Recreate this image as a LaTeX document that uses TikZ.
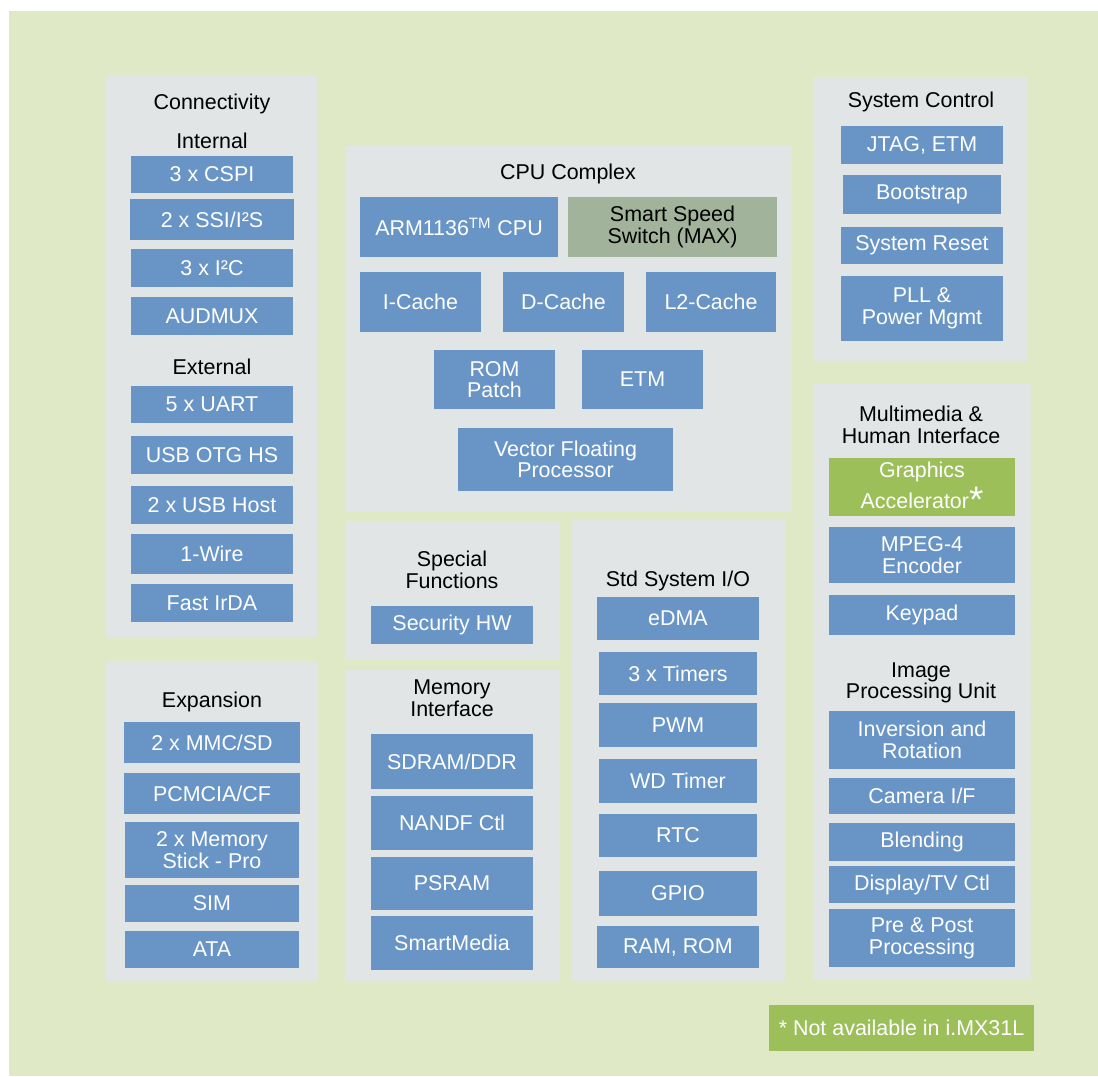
\documentclass[tikz,border=0pt]{standalone}
\usepackage{fontspec}
\setmainfont{Liberation Sans}
\definecolor{bggreen}{HTML}{E0E9C6}
\definecolor{panelgray}{HTML}{E1E5E5}
\definecolor{blkblue}{HTML}{6895C6}
\definecolor{accgreen}{HTML}{9DBF5A}
\definecolor{maxgray}{HTML}{A1B49B}
\tikzset{
  panel/.style={fill=panelgray},
  blk/.style={fill=blkblue},
  lbl/.style={text=white,align=center,inner sep=0pt,font=\fontsize{12.2}{12.3}\selectfont},
  ttl/.style={lbl,text=black},
}
\begin{document}
\begin{tikzpicture}[x=0.02cm,y=-0.02cm]
\useasboundingbox (0,0) rectangle (1098,1076);
\fill[bggreen] (9,11) rectangle (1098,1076);

\begin{scope}
\path[panel] (106,76) rectangle (317,637);
\node[ttl] (conn) at (212,104) {Connectivity};
\node[ttl] (int) at (212,141) {Internal};
\path[blk] (131,156) rectangle node[lbl] (cspi) {3 x CSPI} (293,193);
\path[blk] (130,199) rectangle node[lbl] (ssi) {2 x SSI/I²S} (294,240);
\path[blk] (131,249) rectangle node[lbl] (iic) {3 x I²C} (293,287);
\path[blk] (131,297) rectangle node[lbl] (audmux) {AUDMUX} (293,335);
\node[ttl] (ext) at (212,367) {External};
\path[blk] (131,386) rectangle node[lbl] (uart) {5 x UART} (293,423);
\path[blk] (131,436) rectangle node[lbl] (otg) {USB OTG HS} (293,474);
\path[blk] (131,486) rectangle node[lbl] (usbh) {2 x USB Host} (293,524);
\path[blk] (131,534) rectangle node[lbl] (wire) {1-Wire} (293,574);
\path[blk] (131,584) rectangle node[lbl] (irda) {Fast IrDA} (293,622);
\end{scope}

\begin{scope}
\path[panel] (106,661) rectangle (318,981);
\node[ttl] (expn) at (212,702) {Expansion};
\path[blk] (124,722) rectangle node[lbl] (mmc) {2 x MMC/SD} (300,763);
\path[blk] (124,773) rectangle node[lbl] (pcmcia) {PCMCIA/CF} (300,814);
\path[blk] (125,822) rectangle node[lbl] (mstick) {2 x Memory\\Stick - Pro} (299,878);
\path[blk] (125,885) rectangle node[lbl] (sim) {SIM} (299,922);
\path[blk] (125,931) rectangle node[lbl] (ata) {ATA} (299,968);
\end{scope}

\begin{scope}
\path[panel] (345,146) rectangle (792,512);
\node[ttl] (cpu) at (568,174) {CPU Complex};
\path[blk] (360,197) rectangle node[lbl] (arm) {ARM1136\textsuperscript{TM} CPU} (558,257);
\path[fill=maxgray] (568,197) rectangle node[ttl] (max) {Smart Speed\\Switch (MAX)} (777,257);
\path[blk] (360,272) rectangle node[lbl] (icache) {I-Cache} (481,332);
\path[blk] (503,272) rectangle node[lbl] (dcache) {D-Cache} (624,332);
\path[blk] (646,272) rectangle node[lbl] (ltwo) {L2-Cache} (776,332);
\path[blk] (434,350) rectangle node[lbl] (rom) {ROM\\Patch} (555,409);
\path[blk] (582,350) rectangle node[lbl] (etm) {ETM} (703,409);
\path[blk] (458,428) rectangle node[lbl] (vfp) {Vector Floating\\Processor} (673,491);
\end{scope}

\begin{scope}
\path[panel] (345,521) rectangle (560,660);
\node[ttl] (spec) at (452,570) {Special\\Functions};
\path[blk] (371,606) rectangle node[lbl] (sechw) {Security HW} (533,644);
\path[panel] (345,670) rectangle (560,981);
\node[ttl] (mem) at (452,698) {Memory\\Interface};
\path[blk] (371,734) rectangle node[lbl] (sdram) {SDRAM/DDR} (533,789);
\path[blk] (371,796) rectangle node[lbl] (nand) {NANDF Ctl} (533,850);
\path[blk] (371,857) rectangle node[lbl] (psram) {PSRAM} (533,910);
\path[blk] (371,916) rectangle node[lbl] (smedia) {SmartMedia} (533,970);
\end{scope}

\begin{scope}
\path[panel] (572,520) rectangle (785,981);
\node[ttl] (stdio) at (678,581) {Std System I/O};
\path[blk] (597,597) rectangle node[lbl] (edma) {eDMA} (759,640);
\path[blk] (599,652) rectangle node[lbl] (timers) {3 x Timers} (757,695);
\path[blk] (599,703) rectangle node[lbl] (pwm) {PWM} (757,747);
\path[blk] (599,759) rectangle node[lbl] (wdt) {WD Timer} (757,803);
\path[blk] (599,814) rectangle node[lbl] (rtc) {RTC} (757,857);
\path[blk] (599,871) rectangle node[lbl] (gpio) {GPIO} (757,916);
\path[blk] (597,926) rectangle node[lbl] (ramrom) {RAM, ROM} (759,968);
\end{scope}

\begin{scope}
\path[panel] (813,77) rectangle (1028,361);
\node[ttl] (sysctl) at (921,102) {System Control};
\path[blk] (841,126) rectangle node[lbl] (jtag) {JTAG, ETM} (1003,164);
\path[blk] (843,175) rectangle node[lbl] (boot) {Bootstrap} (1001,214);
\path[blk] (841,227) rectangle node[lbl] (reset) {System Reset} (1003,264);
\path[blk] (841,276) rectangle node[lbl] (pll) {PLL \&\\Power Mgmt} (1003,341);
\end{scope}

\begin{scope}
\path[panel] (813,384) rectangle (1031,980);
\node[ttl] (mm) at (921,425) {Multimedia \&\\Human Interface};
\path[fill=accgreen] (829,458) rectangle node[lbl] (gfx) {Graphics\\[2pt]Accelerator\raisebox{-2pt}{\fontsize{21}{12}\selectfont*}} (1015,516);
\path[blk] (829,527) rectangle node[lbl] (mpeg) {MPEG-4\\Encoder} (1015,583);
\path[blk] (829,595) rectangle node[lbl] (keypad) {Keypad} (1015,635);
\node[ttl] (ipu) at (921,683) {Image\\Processing Unit};
\path[blk] (829,711) rectangle node[lbl] (inv) {Inversion and\\Rotation} (1015,769);
\path[blk] (829,778) rectangle node[lbl] (cam) {Camera I/F} (1015,814);
\path[blk] (829,823) rectangle node[lbl] (blend) {Blending} (1015,861);
\path[blk] (829,866) rectangle node[lbl] (disp) {Display/TV Ctl} (1015,903);
\path[blk] (829,909) rectangle node[lbl] (prepost) {Pre \& Post\\Processing} (1015,967);
\end{scope}

\path[fill=accgreen] (769,1005) rectangle node[lbl] (note) {* Not available in i.MX31L} (1034,1051);
\end{tikzpicture}
\end{document}
